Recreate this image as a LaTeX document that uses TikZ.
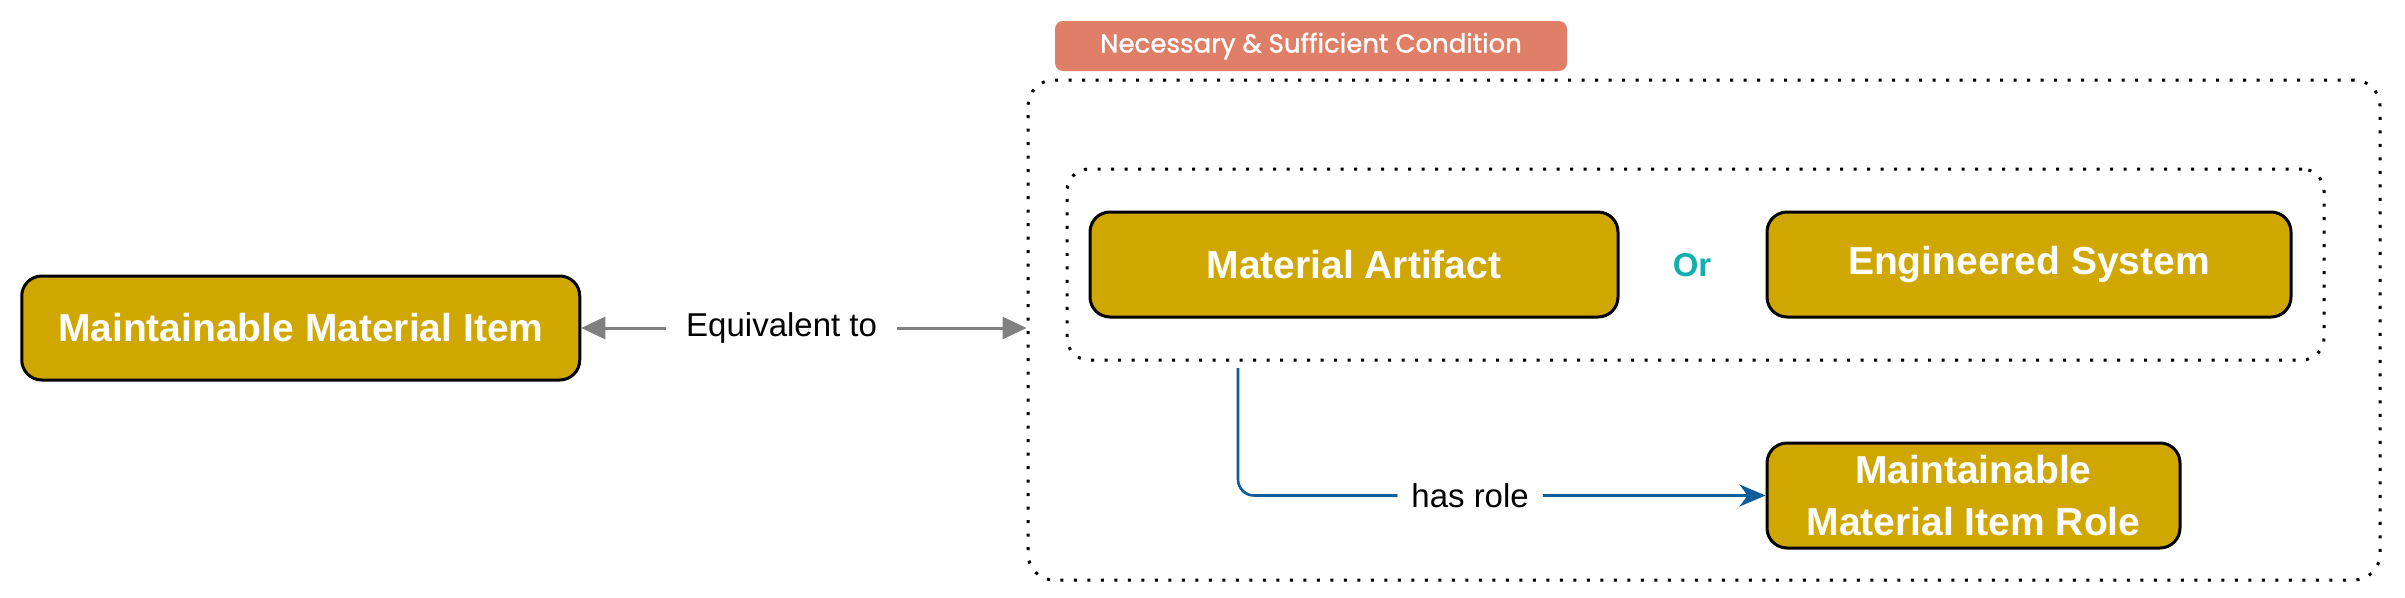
\documentclass[tikz,border=0pt]{standalone}
\usepackage{fontspec}
\setmainfont{Liberation Sans}
\newfontfamily\labelfont[FakeBold=1.2]{Poppins}
\usetikzlibrary{arrows.meta}
\definecolor{gold}{HTML}{CFA700}
\definecolor{salmon}{HTML}{E07F68}
\definecolor{tealor}{HTML}{12AFAF}
\definecolor{roleblue}{HTML}{0E5D9B}
\definecolor{eqgray}{HTML}{808080}
\begin{document}
\begin{tikzpicture}[x=1pt,y=-1pt,
  classbox/.style={draw=black, line width=3pt, fill=gold, rounded corners=20pt, text=white,
    font=\fontsize{39}{52}\selectfont\bfseries, align=center, inner sep=0pt},
  dotbox/.style={draw=black, line width=3pt, dash pattern=on 3pt off 10.5pt, inner sep=0pt},
  condlabel/.style={fill=salmon, rounded corners=8pt, text=white, inner sep=0pt,
    font=\labelfont\fontsize{26}{32}\selectfont},
  edgelabel/.style={fill=white, text=black, font=\fontsize{33}{40}\selectfont, inner xsep=20pt, inner ysep=4pt},
  eqarrow/.style={draw=eqgray, line width=3pt, {Triangle[length=24pt,width=22pt]}-{Triangle[length=24pt,width=22pt]}},
  rolearrow/.style={draw=roleblue, line width=2.6pt, rounded corners=16pt, -{Stealth[length=26pt,width=22pt,inset=8pt]}},
  ortext/.style={text=tealor, font=\fontsize{33}{40}\selectfont\bfseries}
]
\useasboundingbox (0,0) rectangle (2405,597);

% containers
\node[dotbox, rounded corners=26pt, minimum width=1352pt, minimum height=500pt] (outer) at (1704,330) {};
\node[dotbox, rounded corners=22pt, minimum width=1257pt, minimum height=191pt] (inner) at (1695.5,264.5) {};
\node[condlabel, minimum width=512pt, minimum height=50pt] (cond) at (1311,46) {Necessary \& Sufficient Condition};

% classes
\node[classbox, minimum width=558pt, minimum height=104pt] (mmi) at (300.75,328) {Maintainable Material Item};
\node[classbox, minimum width=528pt, minimum height=105pt] (ma) at (1354,264.5) {Material Artifact};
\node[classbox, minimum width=524pt, minimum height=105pt] (es) at (2029,264.5) {Engineered System};
\node[ortext] (or) at (1692,265) {Or};
\node[classbox, minimum width=413pt, minimum height=105pt] (mmir) at (1973.5,495.5) {Maintainable\\Material Item Role};

% connectors
\draw[eqarrow] (mmi.east) -- node[edgelabel, pos=0.45] (eqlabel) {Equivalent to} (mmi.east -| outer.west);
\coordinate (hrstart) at (1238,368);
\draw[rolearrow] (hrstart) |- node[edgelabel, pos=0.72, inner xsep=14pt] (hrlabel) {has role} (mmir.west);
\end{tikzpicture}
\end{document}
